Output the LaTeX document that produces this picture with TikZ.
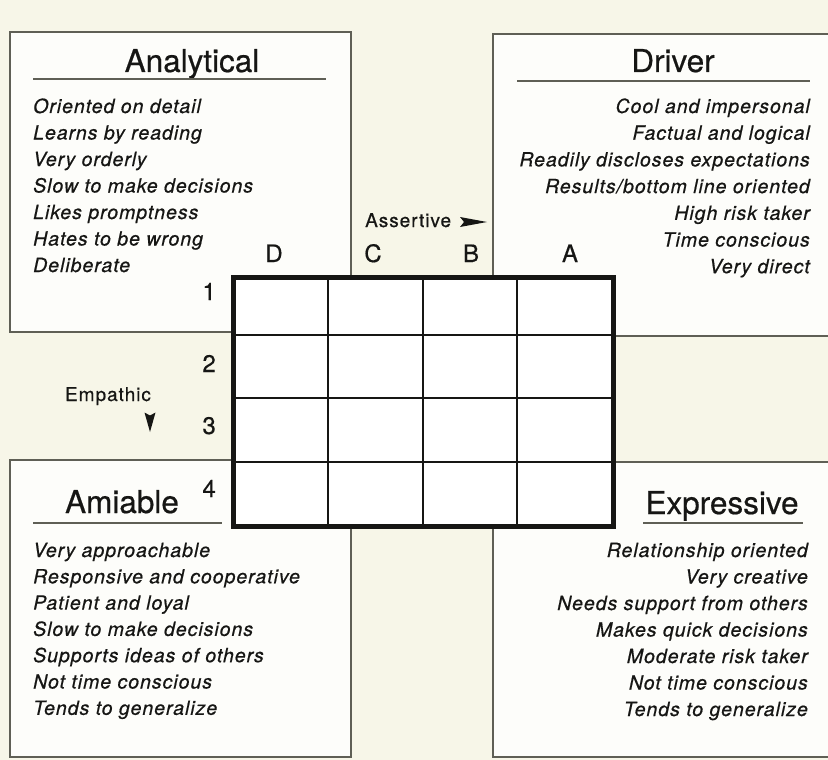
\documentclass[tikz,border=0pt]{standalone}
\usepackage{fontspec}
\setmainfont{TeX Gyre Heros}
\newfontfamily\trk{TeX Gyre Heros}[LetterSpace=5, FakeBold=0.6]
\newfontfamily\hvb{TeX Gyre Heros}[FakeBold=0.5]
\definecolor{bgc}{RGB}{247,246,232}
\definecolor{boxc}{RGB}{253,253,250}
\definecolor{ink}{RGB}{22,22,20}
\definecolor{edge}{RGB}{95,95,85}
\tikzset{
  quad/.style={draw=edge, line width=1.3pt, fill=boxc},
  title/.style={font=\hvb\fontsize{31.5}{36}\selectfont, text=ink, inner sep=0pt, anchor=base},
  rule/.style={draw=edge, line width=1.4pt},
  itemL/.style={font=\trk\itshape\fontsize{19.5}{24}\selectfont, text=ink, inner sep=0pt, anchor=base west},
  itemR/.style={font=\trk\itshape\fontsize{19.5}{24}\selectfont, text=ink, inner sep=0pt, anchor=base east},
  axis/.style={font=\trk\fontsize{19}{24}\selectfont, text=ink, inner sep=0pt},
  gridlab/.style={font=\hvb\fontsize{24}{28}\selectfont, text=ink, inner sep=0pt},
  thin grid/.style={draw=ink, line width=2.3pt},
  thick grid/.style={draw=ink, line width=5pt},
  head/.style={fill=ink, draw=none}
}
\begin{document}
\begin{tikzpicture}[x=1pt,y=-1pt]
\useasboundingbox (0,0) rectangle (828,760);
\fill[bgc] (0,0) rectangle (828,760);
\begin{scope}
\clip (0,0) rectangle (828,760);
% quadrant boxes
\path[quad] (10,32) rectangle (351,332);
\path[quad] (493,34) rectangle (845,336);
\path[quad] (10,460) rectangle (351,757);
\path[quad] (493,462) rectangle (845,757);
\end{scope}

% titles and rules
\node[title] (tan) at (192,72) {Analytical};
\draw[rule] (33,79) -- (326,79);
\node[title] (tdr) at (673,72) {Driver};
\draw[rule] (517,81) -- (810,81);
\node[title] (tam) at (122,513) {Amiable};
\draw[rule] (33,523) -- (222,523);
\node[title] (tex) at (722,514) {Expressive};
\draw[rule] (643,523) -- (803,523);

% lists
\foreach \t [count=\i from 0] in {Oriented on detail, Learns by reading, Very orderly, Slow to make decisions, Likes promptness, Hates to be wrong, Deliberate}
  \node[itemL] (an\i) at (33,113+26.5*\i) {\t};
\foreach \t [count=\i from 0] in {Cool and impersonal, Factual and logical, Readily discloses expectations, Results/bottom line oriented, High risk taker, Time conscious, Very direct}
  \node[itemR] (dr\i) at (810,113+26.7*\i) {\t};
\foreach \t [count=\i from 0] in {Very approachable, Responsive and cooperative, Patient and loyal, Slow to make decisions, Supports ideas of others, Not time conscious, Tends to generalize}
  \node[itemL] (am\i) at (33,557+26.3*\i) {\t};
\foreach \t [count=\i from 0] in {Relationship oriented, Very creative, Needs support from others, Makes quick decisions, Moderate risk taker, Not time conscious, Tends to generalize}
  \node[itemR] (ex\i) at (808,557+26.5*\i) {\t};

% grid
\fill[white] (233,277) rectangle (613,526);
\foreach \x in {328,423,517} \draw[thin grid] (\x,277) -- (\x,526);
\foreach \y in {335,398,462} \draw[thin grid] (233,\y) -- (613,\y);
\draw[thick grid] (233,277) rectangle (613,526);

% column and row labels
\node[gridlab, anchor=base] (cD) at (274,262) {D};
\node[gridlab, anchor=base] (cC) at (373,262) {C};
\node[gridlab, anchor=base] (cB) at (471,262) {B};
\node[gridlab, anchor=base] (cA) at (570,262) {A};
\node[gridlab, anchor=base east] (r1) at (216,300) {1};
\node[gridlab, anchor=base east] (r2) at (216,372) {2};
\node[gridlab, anchor=base east] (r3) at (216,434) {3};
\node[gridlab, anchor=base east] (r4) at (216,497) {4};

% axis labels with arrowheads
\node[axis, anchor=base west] (assert) at (365,227) {Assertive};
\coordinate (ah) at (473,222);
\path[head] ([xshift=-13pt,yshift=5pt]ah) -- ([xshift=14pt]ah) -- ([xshift=-13pt,yshift=-5pt]ah) -- ([xshift=-9pt]ah) -- cycle;
\node[axis, anchor=base] (emp) at (108,401) {Empathic};
\coordinate (eh) at (150,422);
\path[head] ([xshift=-5.5pt,yshift=9.5pt]eh) -- ([yshift=-10pt]eh) -- ([xshift=5.5pt,yshift=9.5pt]eh) -- ([yshift=6.5pt]eh) -- cycle;
\end{tikzpicture}
\end{document}
